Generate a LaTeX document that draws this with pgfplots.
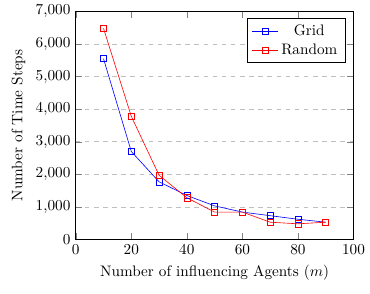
\documentclass[border=0pt]{standalone}
\usepackage{pgfplots}
\pgfplotsset{compat=1.18}
\begin{document}
\begin{tikzpicture}
\begin{axis}[
  name=ax,
  width=8.0cm, height=6.85cm,
  xmin=0, xmax=100, ymin=0, ymax=7000,
  ytick distance=1000,
  xlabel={Number of influencing Agents ($m$)},
  ylabel={Number of Time Steps},
  ymajorgrids, major grid style={dashed, gray!50},
  legend pos=north east,
  legend cell align=center,
]
\addplot[blue, mark=square] coordinates {(10,5550) (20,2700) (30,1770) (40,1350) (50,1030) (60,840) (70,730) (80,620) (90,530)};
\addlegendentry{Grid}
\addplot[red, mark=square] coordinates {(10,6480) (20,3780) (30,1970) (40,1280) (50,840) (60,840) (70,530) (80,480) (90,530)};
\addlegendentry{Random}
\end{axis}
\path (ax.north east) -- ++(0.25cm,0.25cm);
\path (ax.south west) -- ++(-1.75cm,-1.25cm);
\end{tikzpicture}
\end{document}
